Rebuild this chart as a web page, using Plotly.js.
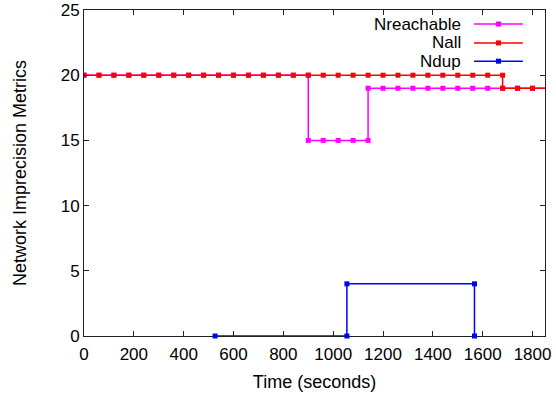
<!DOCTYPE html>
<html>
<head>
<meta charset="utf-8">
<script src="https://cdn.plot.ly/plotly-3.0.1.min.js"></script>
<style>
  html, body { margin: 0; padding: 0; background: #fff; }
  #chart { width: 556px; height: 396px; }
</style>
</head>
<body>
<div id="chart"></div>
<script>
// Sample times (s) and metric values; repeated times mark the vertical steps.
const reachableTime = [0, 60, 120, 180, 240, 300, 360, 420, 480, 540, 600, 660, 720, 780, 840, 900,
  900, 960, 1020, 1080, 1140,
  1140, 1200, 1260, 1320, 1380, 1440, 1500, 1560, 1620, 1680, 1740, 1800, 1860];
const reachableValue = [20, 20, 20, 20, 20, 20, 20, 20, 20, 20, 20, 20, 20, 20, 20, 20,
  15, 15, 15, 15, 15,
  19, 19, 19, 19, 19, 19, 19, 19, 19, 19, 19, 19, 19];

const allTime = [0, 60, 120, 180, 240, 300, 360, 420, 480, 540, 600, 660, 720, 780, 840, 900,
  960, 1020, 1080, 1140, 1200, 1260, 1320, 1380, 1440, 1500, 1560, 1620, 1680,
  1680, 1740, 1800, 1860];
const allValue = [20, 20, 20, 20, 20, 20, 20, 20, 20, 20, 20, 20, 20, 20, 20, 20,
  20, 20, 20, 20, 20, 20, 20, 20, 20, 20, 20, 20, 20,
  19, 19, 19, 19];

const dupTime = [526, 1055, 1055, 1567, 1567];
const dupValue = [0, 0, 4, 4, 0];

const seriesNames = ['Nreachable', 'Nall', 'Ndup'];
const seriesColors = ['#ff00ff', '#ff0000', '#0000ff'];

const xTicks = [0, 200, 400, 600, 800, 1000, 1200, 1400, 1600, 1800];
const yTicks = [0, 5, 10, 15, 20, 25];

const FONT = '"Liberation Sans", Arial, Helvetica, sans-serif';

function series(x, y, i) {
  return {
    type: 'scatter', mode: 'lines+markers', x: x, y: y, name: seriesNames[i],
    line: { color: seriesColors[i], width: 1.5 },
    marker: { symbol: 'square', size: 5, color: seriesColors[i], line: { width: 0 } },
    cliponaxis: false, showlegend: false
  };
}

const traces = [
  series(reachableTime, reachableValue, 0),
  series(allTime, allValue, 1),
  series(dupTime, dupValue, 2)
];
traces[0].cliponaxis = true;
traces[1].cliponaxis = true;

// Key in the top-right corner: label on the left, line sample on the right.
const keyRows = [0.957, 0.899, 0.843];
const annotations = [];
const shapes = [];
seriesNames.forEach((name, i) => {
  annotations.push({
    xref: 'paper', yref: 'paper', x: 0.823, y: keyRows[i],
    xanchor: 'right', yanchor: 'middle', showarrow: false,
    text: name, font: { family: FONT, size: 17, color: '#000' }
  });
  shapes.push({
    type: 'line', xref: 'paper', yref: 'paper',
    x0: 0.846, x1: 0.952, y0: keyRows[i], y1: keyRows[i],
    line: { color: seriesColors[i], width: 1.5 }
  });
  shapes.push({
    type: 'rect', xref: 'paper', yref: 'paper',
    x0: 0.899 - 0.0055, x1: 0.899 + 0.0055,
    y0: keyRows[i] - 0.0077, y1: keyRows[i] + 0.0077,
    fillcolor: seriesColors[i], line: { width: 0 }
  });
});

const layout = {
  width: 556, height: 396,
  margin: { l: 84, r: 11, t: 10, b: 60 },
  paper_bgcolor: '#fff', plot_bgcolor: '#fff',
  font: { family: FONT, size: 17, color: '#000' },
  showlegend: false,
  xaxis: {
    range: [0, 1850], tickvals: xTicks, ticktext: xTicks.map(String),
    ticks: 'inside', ticklen: 5, tickcolor: '#222', tickwidth: 1,
    showline: true, linecolor: '#222', linewidth: 1, mirror: 'allticks',
    layer: 'below traces',
    showgrid: false, zeroline: false, ticklabelstandoff: 3,
    tickfont: { family: FONT, size: 17, color: '#000' },
    title: { text: 'Time (seconds)', font: { family: FONT, size: 18, color: '#000' }, standoff: 11 }
  },
  yaxis: {
    range: [0, 25], tickvals: yTicks, ticktext: yTicks.map(String),
    ticks: 'inside', ticklen: 5, tickcolor: '#222', tickwidth: 1,
    showline: true, linecolor: '#222', linewidth: 1, mirror: 'allticks',
    showgrid: false, zeroline: false,
    tickfont: { family: FONT, size: 17, color: '#000' },
    title: { text: 'Network Imprecision Metrics', font: { family: FONT, size: 18, color: '#000' }, standoff: 29 }
  },
  annotations: annotations,
  shapes: shapes
};

Plotly.newPlot('chart', traces, layout, { staticPlot: true, displayModeBar: false });
</script>
</body>
</html>
